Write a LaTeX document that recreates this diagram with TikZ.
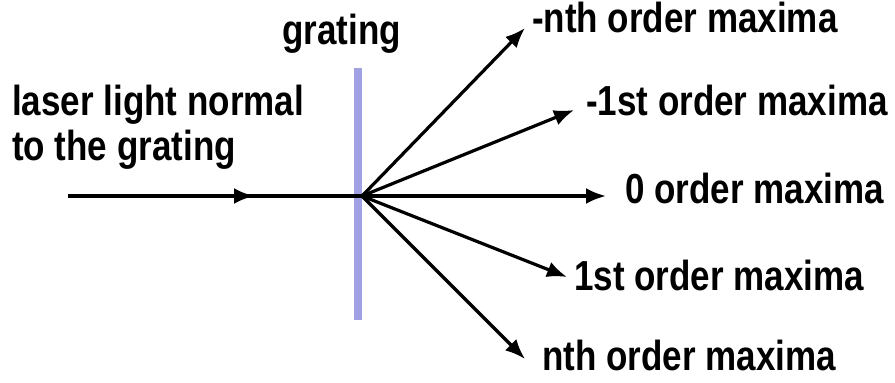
\documentclass[tikz,border=0pt]{standalone}
\usepackage{fontspec}
\setmainfont{Liberation Sans}
\usetikzlibrary{arrows.meta}
\newcommand{\talltext}[1]{\scalebox{1}[1.2]{#1}}
\begin{document}
\begin{tikzpicture}[x=1pt,y=-1pt,
  lbl/.style={font=\fontsize{35}{40}\selectfont\bfseries, inner sep=0pt, anchor=base west},
  ray/.style={line width=3.2pt, -{Latex[length=20pt,width=16pt]}},
  beam/.style={line width=3.4pt},
  gratingbar/.style={line width=8pt, draw={rgb,255:red,160;green,160;blue,226}}]
\useasboundingbox (0,0) rectangle (895,383);
% grating
\coordinate (gtop) at (358,68);
\coordinate (gbot) at (358,320);
\draw[gratingbar] (gtop) -- (gbot);
% points
\coordinate (src) at (68,196);
\coordinate (mid) at (254,196);
\coordinate (O) at (362,196);
\coordinate (tmn) at (525,28);
\coordinate (tm1) at (574,110);
\coordinate (t0) at (606,196);
\coordinate (tp1) at (567,277);
\coordinate (tpn) at (525,359);
% incident beam
\draw[beam] (src) -- (O);
\draw[ray] (src) -- (mid);
% diffracted rays
\draw[ray] (O) -- (tmn);
\draw[ray] (O) -- (tm1);
\draw[ray] (O) -- (t0);
\draw[ray] (O) -- (tp1);
\draw[ray] (O) -- (tpn);
% labels
\node[lbl] (lg) at (282,44) {\talltext{grating}};
\node[lbl] (l1) at (12,115) {\talltext{laser light normal}};
\node[lbl] (l2) at (12,160) {\talltext{to the grating}};
\node[lbl] (lmn) at (532,32) {\talltext{-nth order maxima}};
\node[lbl] (lm1) at (586,115) {\talltext{-1st order maxima}};
\node[lbl] (l0) at (625,203) {\talltext{0 order maxima}};
\node[lbl] (lp1) at (574,290) {\talltext{1st order maxima}};
\node[lbl] (lpn) at (542,370) {\talltext{nth order maxima}};
\end{tikzpicture}
\end{document}
